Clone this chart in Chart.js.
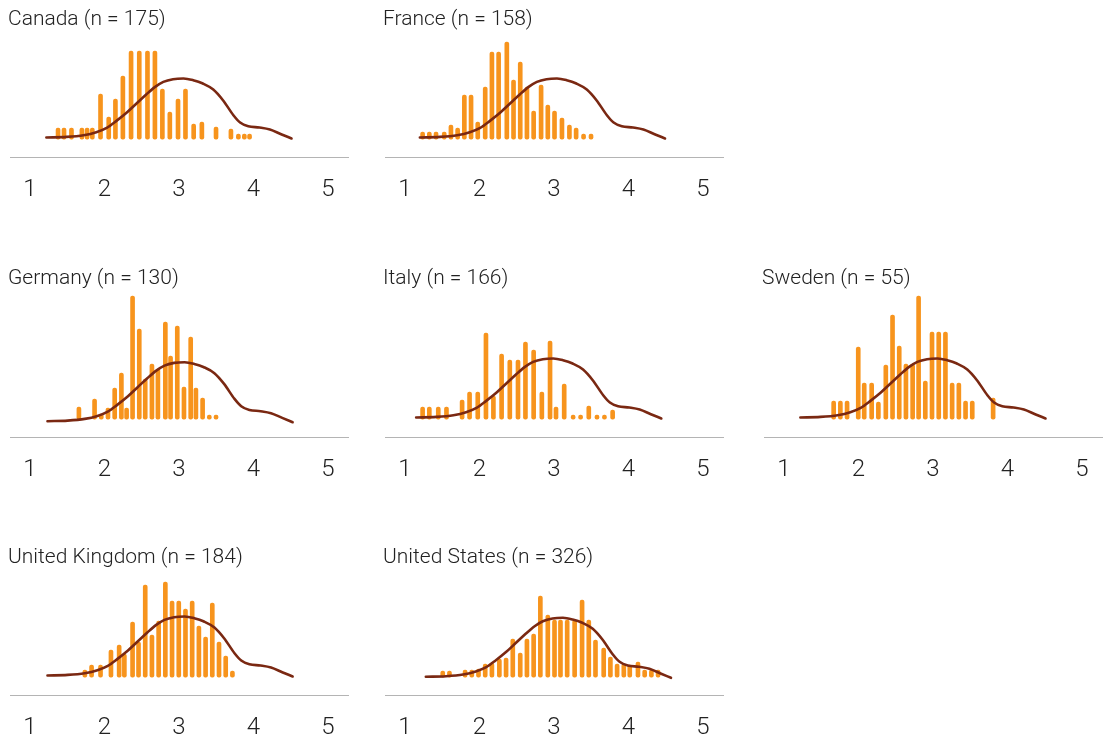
<!DOCTYPE html>
<html lang="en">
<head>
<meta charset="UTF-8">
<title>Distribution by country</title>
<script src="https://cdn.jsdelivr.net/npm/chart.js"></script>
<style>
  body { margin: 0; background: #fff; width: 1112px; height: 736px; overflow: hidden; position: relative; }
  canvas { position: absolute; }
</style>
</head>
<body>
<script>
// x axis tick labels
const xTicks = [1, 2, 3, 4, 5];

// pooled density curve, drawn in every panel
const curveX = [1.22, 1.49, 1.72, 1.89, 2.03, 2.16, 2.30, 2.43, 2.56, 2.68, 2.79, 2.92, 3.06, 3.19, 3.32, 3.46, 3.59, 3.73, 3.82, 3.93, 4.08, 4.22, 4.37, 4.51];
const curveY = [0.017, 0.023, 0.04, 0.07, 0.113, 0.183, 0.267, 0.357, 0.447, 0.523, 0.573, 0.60, 0.607, 0.59, 0.557, 0.497, 0.39, 0.24, 0.167, 0.13, 0.117, 0.097, 0.05, 0.007];

// bars per country
const canadaX = [1.35, 1.43, 1.53, 1.67, 1.74, 1.81, 1.92, 2.03, 2.12, 2.22, 2.33, 2.44, 2.55, 2.65, 2.75, 2.85, 2.96, 3.06, 3.17, 3.28, 3.47, 3.67, 3.77, 3.85, 3.92];
const canadaY = [0.11, 0.11, 0.11, 0.11, 0.11, 0.11, 0.45, 0.22, 0.40, 0.63, 0.88, 0.88, 0.88, 0.88, 0.50, 0.27, 0.40, 0.50, 0.15, 0.17, 0.12, 0.10, 0.05, 0.05, 0.05];

const franceX = [1.21, 1.30, 1.39, 1.50, 1.59, 1.68, 1.77, 1.86, 1.95, 2.05, 2.14, 2.23, 2.34, 2.43, 2.52, 2.61, 2.70, 2.80, 2.89, 2.98, 3.08, 3.18, 3.27, 3.37, 3.47];
const franceY = [0.07, 0.07, 0.07, 0.07, 0.14, 0.11, 0.44, 0.44, 0.17, 0.52, 0.87, 0.87, 0.97, 0.59, 0.77, 0.52, 0.28, 0.54, 0.34, 0.28, 0.21, 0.14, 0.11, 0.05, 0.05];

const germanyX = [1.63, 1.84, 1.93, 2.02, 2.11, 2.20, 2.27, 2.35, 2.44, 2.52, 2.61, 2.69, 2.79, 2.86, 2.95, 3.04, 3.13, 3.20, 3.29, 3.38, 3.47];
const germanyY = [0.12, 0.20, 0.05, 0.11, 0.31, 0.46, 0.11, 1.23, 0.90, 0.40, 0.55, 0.50, 0.97, 0.63, 0.93, 0.32, 0.82, 0.31, 0.21, 0.04, 0.04];

const italyX = [1.21, 1.30, 1.42, 1.53, 1.74, 1.84, 1.95, 2.06, 2.16, 2.27, 2.38, 2.49, 2.59, 2.70, 2.81, 2.92, 3.00, 3.11, 3.23, 3.33, 3.44, 3.55, 3.65, 3.76];
const italyY = [0.12, 0.12, 0.12, 0.12, 0.19, 0.27, 0.27, 0.86, 0.23, 0.65, 0.59, 0.59, 0.77, 0.69, 0.27, 0.78, 0.12, 0.35, 0.04, 0.04, 0.13, 0.04, 0.04, 0.09];

const swedenX = [1.64, 1.73, 1.82, 1.97, 2.05, 2.15, 2.24, 2.34, 2.43, 2.52, 2.61, 2.70, 2.78, 2.87, 2.96, 3.05, 3.14, 3.23, 3.32, 3.41, 3.50, 3.78];
const swedenY = [0.18, 0.18, 0.18, 0.72, 0.36, 0.36, 0.17, 0.54, 1.04, 0.73, 0.55, 0.55, 1.23, 0.38, 0.87, 0.87, 0.87, 0.36, 0.36, 0.18, 0.18, 0.21];

const ukX = [1.71, 1.80, 1.92, 2.06, 2.17, 2.24, 2.35, 2.43, 2.52, 2.61, 2.70, 2.79, 2.88, 2.97, 3.06, 3.15, 3.24, 3.33, 3.42, 3.51, 3.60, 3.69];
const ukY = [0.07, 0.12, 0.12, 0.27, 0.32, 0.23, 0.55, 0.35, 0.92, 0.42, 0.56, 0.95, 0.76, 0.76, 0.68, 0.76, 0.51, 0.40, 0.74, 0.35, 0.21, 0.06];

const usX = [1.48, 1.57, 1.78, 1.87, 1.96, 2.05, 2.14, 2.24, 2.33, 2.42, 2.52, 2.61, 2.70, 2.79, 2.89, 2.98, 3.06, 3.15, 3.25, 3.35, 3.44, 3.53, 3.64, 3.73, 3.82, 3.91, 3.99, 4.10, 4.19, 4.28, 4.37];
const usY = [0.06, 0.06, 0.07, 0.07, 0.08, 0.13, 0.14, 0.18, 0.19, 0.38, 0.24, 0.38, 0.43, 0.81, 0.62, 0.57, 0.57, 0.57, 0.57, 0.77, 0.57, 0.37, 0.29, 0.20, 0.13, 0.13, 0.12, 0.15, 0.07, 0.07, 0.07];

const panels = [
  { name: 'Canada', n: 175, x: canadaX, y: canadaY, col: 0, row: 0 },
  { name: 'France', n: 158, x: franceX, y: franceY, col: 1, row: 0 },
  { name: 'Germany', n: 130, x: germanyX, y: germanyY, col: 0, row: 1 },
  { name: 'Italy', n: 166, x: italyX, y: italyY, col: 1, row: 1 },
  { name: 'Sweden', n: 55, x: swedenX, y: swedenY, col: 2, row: 1 },
  { name: 'United Kingdom', n: 184, x: ukX, y: ukY, col: 0, row: 2 },
  { name: 'United States', n: 326, x: usX, y: usY, col: 1, row: 2 }
];

// layout (px) - the curve sits slightly differently in some panels
const COL_LEFT = [0, 375, 754];
const ROW_TOP = [0, 259, 538];
const ROW_AXIS = [157, 178, 157];
const CURVE_NUDGE = {
  'France': [-0.02, 0], 'Germany': [0.015, 0.037], 'Italy': [-0.07, 0],
  'United Kingdom': [0.015, 0], 'United States': [0.06, 0.013]
};
const TICK_PAD = 18, TICK_SIZE = 24;
const AREA_TOP = 35, AXIS_H = 2 * TICK_PAD + TICK_SIZE * 1.2, PX_PER_UNIT = 100;
const X_MIN = 0.732, X_MAX = 5.268, Y_MIN = -0.18;
const BAR = '#f7941d', CURVE = '#7a2812', AXIS = '#b4b4b4';
const FONT = 'Roboto, "Liberation Sans", sans-serif';
const TITLE_SIZE = 21, TITLE_MID = 20;

panels.forEach(p => {
  const w = p.col === 2 ? 358 : 370;
  const axisY = ROW_AXIS[p.row];
  const canvas = document.createElement('canvas');
  canvas.width = w;
  canvas.height = Math.round(axisY + AXIS_H);
  canvas.style.left = COL_LEFT[p.col] + 'px';
  canvas.style.top = ROW_TOP[p.row] + 'px';
  document.body.appendChild(canvas);

  const yMax = Y_MIN + (canvas.height - AXIS_H - AREA_TOP) / PX_PER_UNIT;
  const nudge = CURVE_NUDGE[p.name] || [0, 0];

  new Chart(canvas, {
    type: 'bar',
    data: {
      datasets: [
        {
          type: 'line',
          data: curveX.map((x, i) => ({ x: x, y: curveY[i] })),
          xAxisID: 'xc', yAxisID: 'yc',
          borderColor: CURVE, borderWidth: 2.6, borderCapStyle: 'round',
          pointRadius: 0, cubicInterpolationMode: 'monotone', clip: false
        },
        {
          type: 'bar',
          data: p.x.map((x, i) => ({ x: x, y: p.y[i] })),
          backgroundColor: BAR, barThickness: 4, borderRadius: 2,
          borderSkipped: false, clip: false
        }
      ]
    },
    options: {
      responsive: false,
      animation: false,
      devicePixelRatio: 1,
      layout: { padding: { left: 8, right: w - 348, top: 0, bottom: 0 } },
      plugins: {
        legend: { display: false },
        tooltip: { enabled: false },
        title: {
          display: true,
          text: p.name + ' (n = ' + p.n + ')',
          align: 'start',
          color: '#222',
          font: { family: FONT, size: TITLE_SIZE, weight: 300 },
          padding: { top: TITLE_MID - TITLE_SIZE * 0.6, bottom: AREA_TOP - TITLE_MID - TITLE_SIZE * 0.6 }
        }
      },
      scales: {
        x: {
          type: 'linear', min: X_MIN, max: X_MAX, offset: false,
          grid: { display: false, drawTicks: false },
          border: { display: true, color: AXIS, width: 1 },
          ticks: { color: '#222', padding: TICK_PAD, font: { family: FONT, size: TICK_SIZE, weight: 300 } },
          afterBuildTicks: s => { s.ticks = xTicks.map(v => ({ value: v })); }
        },
        // invisible 2px strip so the plot starts 2px right of the title
        y: {
          min: Y_MIN, max: yMax,
          ticks: { display: false }, grid: { display: false }, border: { display: false },
          afterFit: s => { s.width = 2; }
        },
        xc: { type: 'linear', display: false, offset: false, min: X_MIN - nudge[0], max: X_MAX - nudge[0] },
        yc: { type: 'linear', display: false, min: Y_MIN + nudge[1], max: yMax + nudge[1] }
      }
    }
  });
});
</script>
</body>
</html>
